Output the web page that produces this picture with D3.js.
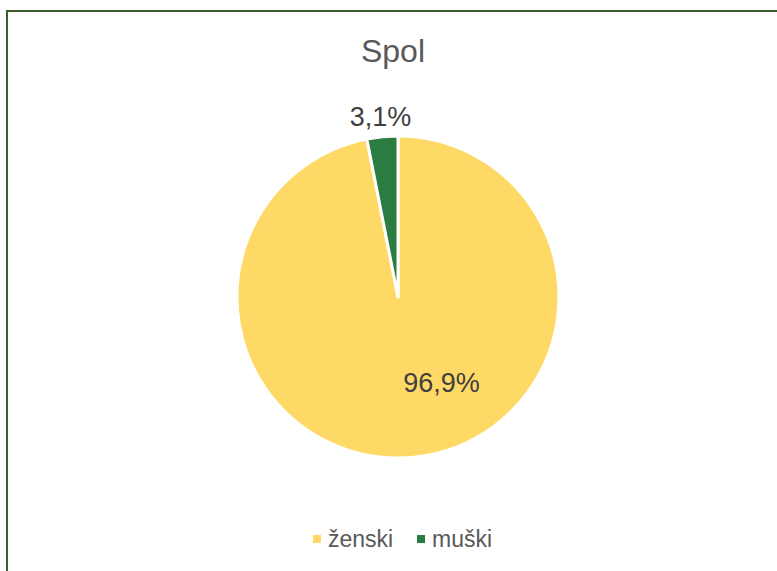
<!DOCTYPE html>
<html>
<head>
<meta charset="utf-8">
<script src="https://cdn.jsdelivr.net/npm/d3@7"></script>
<style>
  body { margin: 0; background: #fff; }
  text { font-family: "Liberation Sans", Arial, sans-serif; }
</style>
</head>
<body>
<div id="chart"></div>
<script>
// data
var categories = ["ženski", "muški"];
var values = [96.9, 3.1];
var labels = ["96,9%", "3,1%"];
var colors = ["#FFD966", "#2A7C40"];

var width = 777, height = 571;
var cx = 398, cy = 297, radius = 161;

var svg = d3.select("#chart")
  .append("svg")
    .attr("width", width)
    .attr("height", height);

// frame (right and bottom edges fall outside the picture)
svg.append("rect")
  .attr("x", 7)
  .attr("y", 11)
  .attr("width", 790)
  .attr("height", 600)
  .attr("fill", "none")
  .attr("stroke", "#3B5E2B")
  .attr("stroke-width", 2);

svg.append("text")
  .attr("x", 393)
  .attr("y", 62)
  .attr("text-anchor", "middle")
  .attr("font-size", "32px")
  .attr("fill", "#595959")
  .text("Spol");

var data = categories.map(function(c, i) {
  return {name: c, value: values[i], label: labels[i], color: colors[i]};
});

var pie = d3.pie()
  .sort(null)
  .value(function(d) { return d.value; });

var arc = d3.arc()
  .innerRadius(0)
  .outerRadius(radius);

var g = svg.append("g")
  .attr("transform", "translate(" + cx + "," + cy + ")");

var arcs = pie(data);

g.selectAll("path")
  .data(arcs)
  .enter().append("path")
    .attr("d", arc)
    .attr("fill", function(d) { return d.data.color; })
    .attr("stroke", "#fff")
    .attr("stroke-width", 3)
    .attr("stroke-linejoin", "round");

// data labels: big slice inside, small slice outside
g.selectAll("text.lbl")
  .data(arcs)
  .enter().append("text")
    .attr("class", "lbl")
    .attr("text-anchor", "middle")
    .attr("font-size", "27px")
    .attr("fill", "#404040")
    .attr("x", function(d, i) {
      if (i == 0) return radius * 0.27;
      var a = (d.startAngle + d.endAngle) / 2;
      return Math.sin(a) * radius * 1.12;
    })
    .attr("y", function(d, i) {
      if (i == 0) return radius * 0.59;
      var a = (d.startAngle + d.endAngle) / 2;
      return -Math.cos(a) * radius * 1.12 + 8;
    })
    .text(function(d) { return d.data.label; });

// legend
var legendX = [313, 417];
var legend = svg.selectAll("g.legend")
  .data(data)
  .enter().append("g")
    .attr("class", "legend")
    .attr("transform", function(d, i) { return "translate(" + legendX[i] + ",535)"; });

legend.append("rect")
  .attr("width", 8)
  .attr("height", 8)
  .attr("fill", function(d) { return d.color; });

legend.append("text")
  .attr("x", 15)
  .attr("y", 12)
  .attr("font-size", "23px")
  .attr("fill", "#595959")
  .text(function(d) { return d.name; });
</script>
</body>
</html>
